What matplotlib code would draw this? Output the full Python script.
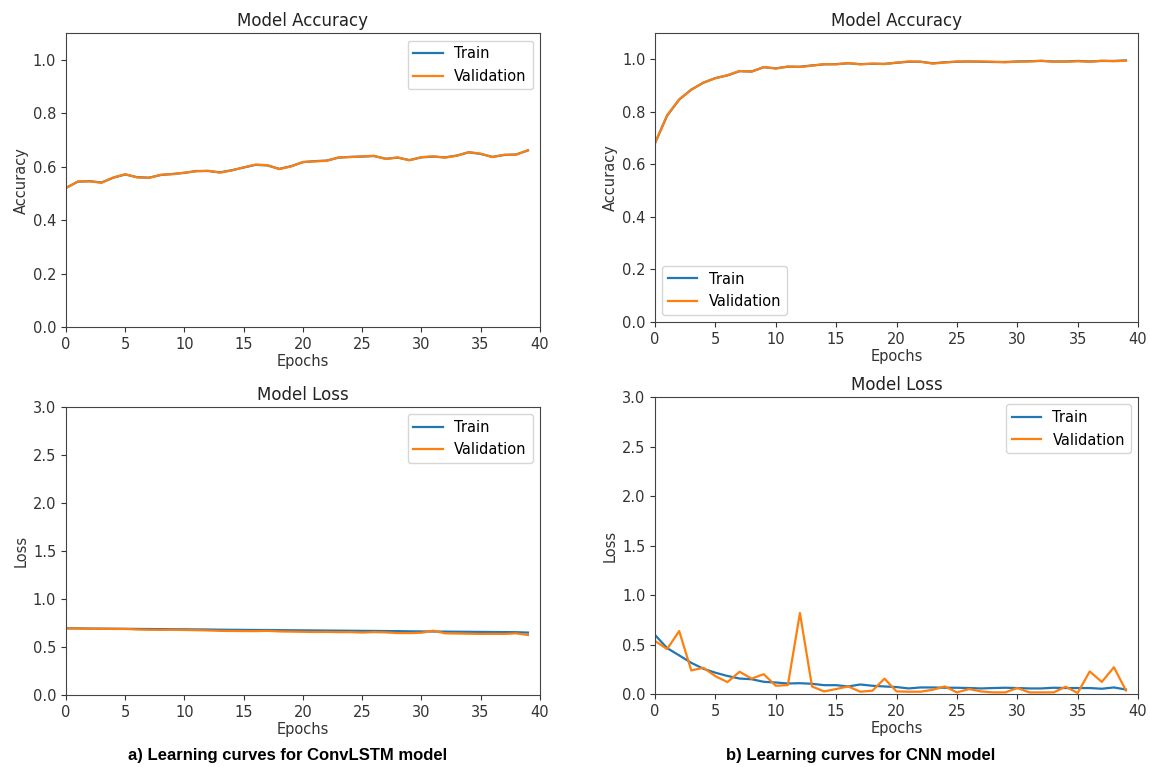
import numpy as np
import matplotlib
matplotlib.use("Agg")
import matplotlib.pyplot as plt

# epochs 0..39
epochs = np.arange(40)

# a) ConvLSTM
lstm_acc_val = [0.520, 0.545, 0.545, 0.540, 0.560, 0.572, 0.560, 0.558, 0.570, 0.572,
                0.578, 0.583, 0.585, 0.578, 0.586, 0.598, 0.608, 0.606, 0.591, 0.601,
                0.618, 0.620, 0.622, 0.635, 0.636, 0.639, 0.641, 0.629, 0.635, 0.624,
                0.636, 0.639, 0.634, 0.641, 0.655, 0.649, 0.636, 0.645, 0.645, 0.662]
lstm_acc_train = [0.521, 0.544, 0.546, 0.541, 0.559, 0.571, 0.561, 0.559, 0.569, 0.573,
                  0.577, 0.584, 0.584, 0.579, 0.587, 0.597, 0.607, 0.605, 0.592, 0.602,
                  0.617, 0.621, 0.623, 0.634, 0.637, 0.638, 0.640, 0.630, 0.634, 0.625,
                  0.635, 0.638, 0.635, 0.642, 0.654, 0.648, 0.637, 0.644, 0.646, 0.661]
lstm_loss_train = [0.695, 0.694, 0.692, 0.691, 0.690, 0.689, 0.688, 0.687, 0.686, 0.685,
                   0.684, 0.683, 0.682, 0.680, 0.679, 0.678, 0.677, 0.677, 0.675, 0.674,
                   0.673, 0.672, 0.671, 0.670, 0.669, 0.668, 0.667, 0.666, 0.665, 0.663,
                   0.662, 0.661, 0.660, 0.659, 0.658, 0.657, 0.656, 0.655, 0.654, 0.650]
lstm_loss_val = [0.693, 0.692, 0.690, 0.689, 0.688, 0.688, 0.682, 0.679, 0.678, 0.679,
                 0.677, 0.675, 0.672, 0.668, 0.667, 0.666, 0.665, 0.668, 0.662, 0.660,
                 0.658, 0.656, 0.657, 0.654, 0.655, 0.650, 0.655, 0.652, 0.645, 0.645,
                 0.648, 0.670, 0.642, 0.640, 0.638, 0.636, 0.637, 0.636, 0.642, 0.625]

# b) CNN
cnn_acc_val = [0.680, 0.786, 0.847, 0.883, 0.911, 0.927, 0.939, 0.955, 0.952, 0.970,
               0.964, 0.972, 0.970, 0.975, 0.981, 0.980, 0.985, 0.980, 0.983, 0.981,
               0.987, 0.991, 0.990, 0.983, 0.987, 0.991, 0.990, 0.991, 0.990, 0.988,
               0.990, 0.991, 0.994, 0.990, 0.990, 0.992, 0.990, 0.994, 0.992, 0.994]
cnn_acc_train = [0.681, 0.785, 0.846, 0.884, 0.910, 0.928, 0.938, 0.954, 0.953, 0.969,
                 0.965, 0.971, 0.971, 0.976, 0.980, 0.981, 0.984, 0.981, 0.982, 0.982,
                 0.986, 0.990, 0.990, 0.984, 0.988, 0.990, 0.991, 0.990, 0.989, 0.989,
                 0.991, 0.992, 0.993, 0.991, 0.991, 0.993, 0.991, 0.993, 0.993, 0.995]
cnn_loss_train = [0.596, 0.464, 0.390, 0.315, 0.255, 0.215, 0.182, 0.156, 0.149, 0.123,
                  0.116, 0.106, 0.109, 0.103, 0.089, 0.089, 0.076, 0.096, 0.083, 0.076,
                  0.070, 0.056, 0.066, 0.066, 0.063, 0.063, 0.060, 0.056, 0.060, 0.063,
                  0.060, 0.056, 0.056, 0.063, 0.060, 0.060, 0.060, 0.053, 0.066, 0.045]
cnn_loss_val = [0.536, 0.454, 0.636, 0.238, 0.265, 0.180, 0.120, 0.225, 0.155, 0.200,
                0.083, 0.090, 0.818, 0.076, 0.026, 0.050, 0.076, 0.023, 0.033, 0.155,
                0.026, 0.023, 0.023, 0.043, 0.076, 0.016, 0.050, 0.026, 0.016, 0.016,
                0.060, 0.016, 0.016, 0.016, 0.073, 0.010, 0.228, 0.122, 0.270, 0.035]

fig = plt.figure(figsize=(11.5, 7.67), dpi=100)

panels = [
    # rect, train, val, title, ylabel, ylim, yticks, legend loc
    ([0.0574, 0.5737, 0.412, 0.383], lstm_acc_train, lstm_acc_val, "Model Accuracy", "Accuracy",
     (0, 1.1), np.arange(0, 1.01, 0.2), "upper right"),
    ([0.5696, 0.5802, 0.420, 0.377], cnn_acc_train, cnn_acc_val, "Model Accuracy", "Accuracy",
     (0, 1.1), np.arange(0, 1.01, 0.2), "lower left"),
    ([0.0574, 0.0939, 0.412, 0.3755], lstm_loss_train, lstm_loss_val, "Model Loss", "Loss",
     (0, 3.0), np.arange(0, 3.01, 0.5), "upper right"),
    ([0.5696, 0.0952, 0.420, 0.387], cnn_loss_train, cnn_loss_val, "Model Loss", "Loss",
     (0, 3.0), np.arange(0, 3.01, 0.5), "upper right"),
]

for rect, tr, va, title, ylab, ylim, yt, loc in panels:
    ax = fig.add_axes(rect)
    ax.plot(epochs, tr, color="#1f77b4", lw=1.6, label="Train")
    ax.plot(epochs, va, color="#ff7f0e", lw=1.6, label="Validation")
    ax.set_xlim(0, 40)
    ax.set_ylim(*ylim)
    ax.set_yticks(yt)
    ax.set_xticks(np.arange(0, 41, 5))
    ax.tick_params(labelsize=10.5, colors="#333333")
    ax.set_title(title, fontsize=12, color="#222222", pad=5)
    ax.set_xlabel("Epochs", fontsize=10.5, color="#333333", labelpad=2)
    ax.set_ylabel(ylab, fontsize=10.5, color="#333333", labelpad=3)
    for s in ax.spines.values():
        s.set_color("#444444")
    ax.legend(loc=loc, fontsize=10.5)

fig.text(0.25, 0.0156, "a) Learning curves for ConvLSTM model", ha="center", va="center",
         fontsize=12, fontweight="bold", family="Liberation Sans")
fig.text(0.748, 0.0156, "b) Learning curves for CNN model", ha="center", va="center",
         fontsize=12, fontweight="bold", family="Liberation Sans")

fig.savefig("out.png", dpi=100)
